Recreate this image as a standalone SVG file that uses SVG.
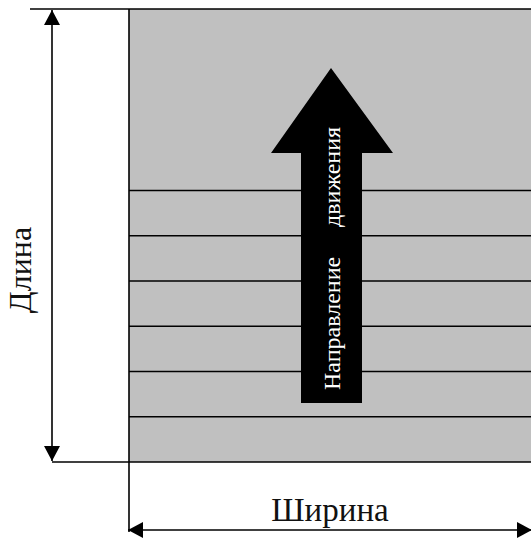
<svg xmlns="http://www.w3.org/2000/svg" width="531" height="539" viewBox="0 0 531 539">
<style>
.ln{stroke:#000;stroke-width:1.6;fill:none}
.lbl{font-family:"Liberation Serif","Times New Roman",serif;fill:#111}
.mv{font-family:"Liberation Serif","Times New Roman",serif;fill:#fff;font-size:24px}
</style>
<defs>
<marker id="ah" markerWidth="16" markerHeight="16" refX="15" refY="8" orient="auto-start-reverse" markerUnits="userSpaceOnUse">
<path d="M0,0 L15,8 L0,16 Z" fill="#000"/>
</marker>
</defs>
<rect width="531" height="539" fill="#fff"/>
<g id="field">
<rect x="129" y="9" width="404" height="453" fill="#c0c0c0"/>
<g class="ln">
<line x1="129" y1="190.5" x2="531" y2="190.5"/>
<line x1="129" y1="235.7" x2="531" y2="235.7"/>
<line x1="129" y1="281" x2="531" y2="281"/>
<line x1="129" y1="326.2" x2="531" y2="326.2"/>
<line x1="129" y1="371.5" x2="531" y2="371.5"/>
<line x1="129" y1="416.7" x2="531" y2="416.7"/>
</g>
</g>
<g id="extension-lines" class="ln">
<line x1="30" y1="9" x2="531" y2="9"/>
<line x1="52" y1="462" x2="531" y2="462"/>
<line x1="129" y1="9" x2="129" y2="532"/>
</g>
<g id="direction-arrow">
<polygon points="331,68 393,153 362,153 362,403 301,403 301,153 271,153" fill="#000"/>
<text class="mv" transform="translate(340,390) rotate(-90)"><tspan x="0" y="0">Направление</tspan><tspan x="163" y="0">движения</tspan></text>
</g>
<g id="connectors">
<line class="ln" x1="52" y1="10" x2="52" y2="461" marker-start="url(#ah)" marker-end="url(#ah)"/>
<line class="ln" x1="128" y1="530" x2="532" y2="530" marker-start="url(#ah)" marker-end="url(#ah)"/>
</g>
<g id="labels">
<text class="lbl" x="330" y="521" font-size="33" text-anchor="middle">Ширина</text>
<text class="lbl" font-size="32" text-anchor="middle" transform="translate(31,270) rotate(-90)">Длина</text>
</g>
</svg>
